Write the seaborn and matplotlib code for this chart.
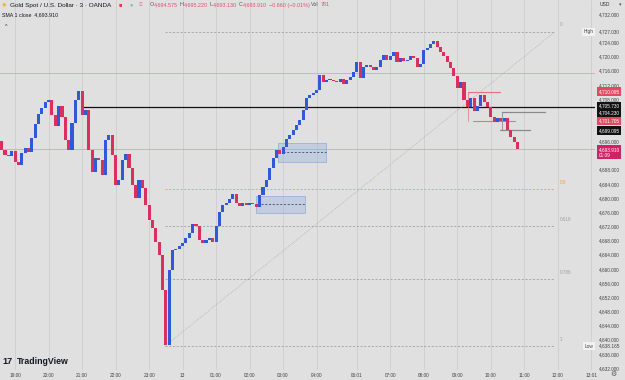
import matplotlib
matplotlib.use("Agg")
import matplotlib.pyplot as plt
import seaborn as sns
import numpy as np
import pandas as pd
from matplotlib.patches import Rectangle

# 6-minute closes (left to right)
closes = [4693.6, 4692.2, 4691.9, 4693.3, 4690.2, 4689.3, 4692.7, 4694.2, 4693.0, 4697.0,
          4700.9, 4703.8, 4705.5, 4707.1, 4707.7, 4703.5, 4700.4, 4706.0, 4702.9, 4696.4,
          4693.6, 4701.2, 4707.7, 4710.2, 4703.5, 4705.0, 4693.6, 4687.4, 4691.3, 4690.8,
          4686.5, 4696.4, 4697.8, 4692.2, 4683.7, 4685.1, 4690.8, 4692.5, 4688.5, 4683.7,
          4680.0, 4685.1, 4682.9, 4678.0, 4673.8, 4671.6, 4667.6, 4663.9, 4654.0, 4638.4,
          4659.7, 4665.3, 4665.6, 4666.5, 4667.4, 4668.7, 4670.1, 4672.7, 4672.1, 4668.2,
          4667.4, 4668.2, 4668.7, 4667.6, 4672.1, 4676.1, 4678.0, 4678.6, 4679.7, 4681.2,
          4678.6, 4677.8, 4678.6, 4678.0, 4678.6, 4678.3, 4677.4, 4680.9, 4683.1, 4685.1,
          4688.5, 4691.3, 4693.6, 4692.5, 4694.3, 4696.7, 4697.8, 4699.2, 4700.7, 4702.1,
          4704.9, 4708.3, 4709.1, 4709.7, 4710.5, 4714.8, 4712.8, 4713.4, 4713.4, 4713.1,
          4712.8, 4713.6, 4712.3, 4713.4, 4714.2, 4715.6, 4718.5, 4713.9, 4717.0, 4717.6,
          4717.0, 4716.2, 4717.1, 4719.0, 4720.4, 4719.0, 4720.1, 4721.3, 4718.5, 4719.6,
          4718.8, 4719.0, 4720.1, 4719.6, 4717.0, 4717.9, 4721.8, 4722.4, 4723.5, 4724.4,
          4722.7, 4721.3, 4720.1, 4718.5, 4716.7, 4714.5, 4711.1, 4712.8, 4707.7, 4705.7,
          4708.3, 4704.6, 4706.0, 4709.1, 4707.1, 4705.7, 4702.9, 4701.5, 4702.6, 4701.8,
          4702.6, 4699.2, 4697.2, 4695.8, 4693.9]
first_open = 4696.0

hour_ticks = [4, 14, 24, 34, 44, 54, 64, 74, 84, 94, 106, 116, 126, 136, 146, 156, 166, 176]
hour_labels = ["19:00", "20:00", "21:00", "22:00", "23:00", "13", "01:00", "02:00", "03:00",
               "04:00", "06:01", "07:00", "08:00", "09:00", "10:00", "11:00", "12:00", "13:01"]
price_ticks = [4732, 4724, 4720, 4716, 4712, 4708, 4696, 4688, 4684, 4680, 4676, 4672,
               4668, 4664, 4660, 4656, 4652, 4648, 4644, 4640, 4636, 4632]

fib_low, fib_high = 4638.165, 4727.030
fib_levels = [0, 0.5, 0.618, 0.786, 1]
black_level = 4705.730
red_levels = [4710.095, 4701.705]
gray_levels = [4704.230, 4699.095]
last_price = 4693.910
upper_red_line = 4715.4

UP, DOWN = "#3158d6", "#d9305e"
BG = "#e0e0e0"

sns.set_theme(style="white")
plt.rcParams["font.family"] = ["Liberation Sans", "DejaVu Sans"]

df = pd.DataFrame({"bar": np.arange(len(closes)), "close": closes})
df["open"] = df["close"].shift(1).fillna(first_open)
df["lo"] = df[["open", "close"]].min(axis=1)
df["h"] = (df["close"] - df["open"]).abs().clip(lower=0.25)
df["col"] = np.where(df["close"] >= df["open"], UP, DOWN)

fig = plt.figure(figsize=(6.25, 3.8), dpi=100, facecolor=BG)
ax = fig.add_axes([0, 10 / 380, 595 / 625, 370 / 380], facecolor=BG)

ax.set_xlim(-0.5, 177.1)
ax.set_ylim(4631.43, 4735.96)

# vertical grid at hour ticks
ax.set_xticks(hour_ticks)
ax.set_xticklabels(hour_labels)
ax.grid(axis="x", color="#cdcdcd", lw=0.6)
ax.grid(axis="y", visible=False)
ax.tick_params(axis="x", length=0, pad=2.4, labelsize=3.4, colors="#444444")
ax.yaxis.tick_right()
ax.set_yticks(price_ticks)
ax.set_yticklabels([f"{p:,.3f}" for p in price_ticks])
ax.tick_params(axis="y", length=0, pad=3, labelsize=3.4, colors="#444444")
for s in ax.spines.values():
    s.set_visible(False)

# horizontal lines
ax.axhline(upper_red_line, color="#e3a0a8", lw=0.6, zorder=1)
ax.axhline(last_price, color="#e3a0a8", lw=0.6, zorder=1)
ax.plot([24.3, 177.1], [black_level, black_level], color="#111111", lw=0.9, zorder=1)

# fib retracement
x0, x1 = 48.7, 165.2
for lvl in fib_levels:
    p = fib_high - lvl * (fib_high - fib_low)
    c = "#f0a140" if lvl == 0.5 else "#a0a0a0"
    ax.plot([x0, x1], [p, p], color=c, lw=0.6, ls=(0, (2.5, 2)), zorder=1)
    ax.text(166.5, p + 1.2, f"{lvl:g}", color=c, fontsize=3.3, va="bottom", ha="left")
ax.plot([x0, x1], [fib_low, fib_high], color="#a5a5a5", lw=0.5, ls=(0, (1, 1.5)), zorder=1)

# blue zones
for (bx0, bx1, plo, phi) in [(82.5, 96.8, 4690.2, 4695.6), (75.9, 90.5, 4675.8, 4680.6)]:
    ax.add_patch(Rectangle((bx0, plo), bx1 - bx0, phi - plo, fc=(0.55, 0.68, 0.88, 0.35),
                           ec="#9db1d6", lw=0.6, zorder=1))
    ax.plot([bx0 + 1.5, bx1], [(plo + phi) / 2] * 2, color="#3e4d72", lw=0.6,
            ls=(0, (2.5, 2)), zorder=1)

# red / gray brackets
ax.plot([139.2, 148.8], [red_levels[0]] * 2, color="#e57380", lw=0.8, zorder=1)
ax.plot([140.7, 153.2], [red_levels[1]] * 2, color="#e57380", lw=0.8, zorder=1)
ax.plot([139.2, 139.2], red_levels, color="#e57380", lw=0.5, zorder=1)
ax.plot([149.4, 162.2], [gray_levels[0]] * 2, color="#8a8a8a", lw=0.9, zorder=1)
ax.plot([148.8, 157.7], [gray_levels[1]] * 2, color="#8a8a8a", lw=0.9, zorder=1)
ax.plot([149.4, 149.4], gray_levels, color="#8a8a8a", lw=0.6, zorder=1)

# candles
ax.bar(df["bar"], df["h"], bottom=df["lo"], width=0.92, color=df["col"], lw=0, zorder=3)

# price scale labels
yt = ax.get_yaxis_transform()
def tag(price, text, fc, tc="white"):
    ax.text(1.006, price, text, transform=yt, fontsize=3.4, color=tc, va="center", ha="left",
            bbox=dict(boxstyle="square,pad=0.35", fc=fc, ec="none"), clip_on=False)

tag(red_levels[0], "4,710.095", "#e04b62")
tag(black_level + 0.25, "4,705.730", "#111111")
tag(gray_levels[0] - 0.25, "4,704.230", "#111111")
tag(red_levels[1], "4,701.705", "#e04b62")
tag(gray_levels[1], "4,699.095", "#111111")
tag(last_price - 1.0, "4,693.910\n01:09", "#d02365")
for p, name in [(fib_high, "High"), (fib_low, "Low")]:
    ax.text(1.006, p, f"{p:,.3f}", transform=yt, fontsize=3.4, color="#444444", va="center",
            ha="left", clip_on=False)
    ax.text(0.9975, p, name, transform=yt, fontsize=3.4, color="#444444", va="center",
            ha="right", bbox=dict(boxstyle="square,pad=0.3", fc="#f2f2f2", ec="none"),
            clip_on=False)

# header
fig.text(1 / 625, 1 - 5 / 380, "\u25cf", color="#f0b429", fontsize=5.5, va="center")
fig.text(10 / 625, 1 - 5 / 380, "Gold Spot / U.S. Dollar \u00b7 3 \u00b7 OANDA", color="#131722",
         fontsize=4.6, va="center")
fig.text(119 / 625, 1 - 5 / 380, "\u25a0", color="#f23645", fontsize=4, va="center")
fig.text(130 / 625, 1 - 5 / 380, "\u25cf", color="#3fb59a", fontsize=4, va="center", alpha=0.7)
fig.text(139 / 625, 1 - 5 / 380, "\u2261", color="#f26d82", fontsize=4.3, va="center")
PINK, GREY = "#e0506f", "#555555"
pieces = [("O", GREY, 0), ("4,694.575", PINK, 1.8), ("H", GREY, 0), ("4,695.220", PINK, 1.8),
          ("L", GREY, 0), ("4,693.130", PINK, 1.8), ("C", GREY, 0), ("4,693.910", PINK, 1.8),
          ("\u22120.660 (\u22120.01%)", PINK, 2), ("Vol", GREY, 1.5), ("781", PINK, 0)]
renderer = fig.canvas.get_renderer()
x = 150
for s, c, gap in pieces:
    t = fig.text(x / 625, 1 - 5 / 380, s, color=c, fontsize=3.9, va="center")
    x = t.get_window_extent(renderer).x1 + gap
fig.text(2 / 625, 1 - 15 / 380, "SMA 1 close  4,693.910", color="#131722", fontsize=3.8, va="center")
fig.text(5 / 625, 1 - 26 / 380, "^", color="#333333", fontsize=4, va="center")
fig.text(600 / 625, 1 - 5 / 380, "USD", color="#333333", fontsize=3.6, va="center")
fig.text(619 / 625, 1 - 5 / 380, "\u25be", color="#555555", fontsize=3.6, va="center")

# logo and gear
fig.text(2 / 625, 1 - 362 / 380, "17", color="#131722", fontsize=6.5, fontweight="heavy", va="center")
fig.text(17 / 625, 1 - 362 / 380, "TradingView", color="#131722", fontsize=6.3,
         fontweight="semibold", va="center")
fig.text(610 / 625, 1 - 374 / 380, "\u2699", color="#555555", fontsize=5, va="center")

fig.savefig("out.png", dpi=100, facecolor=BG)
